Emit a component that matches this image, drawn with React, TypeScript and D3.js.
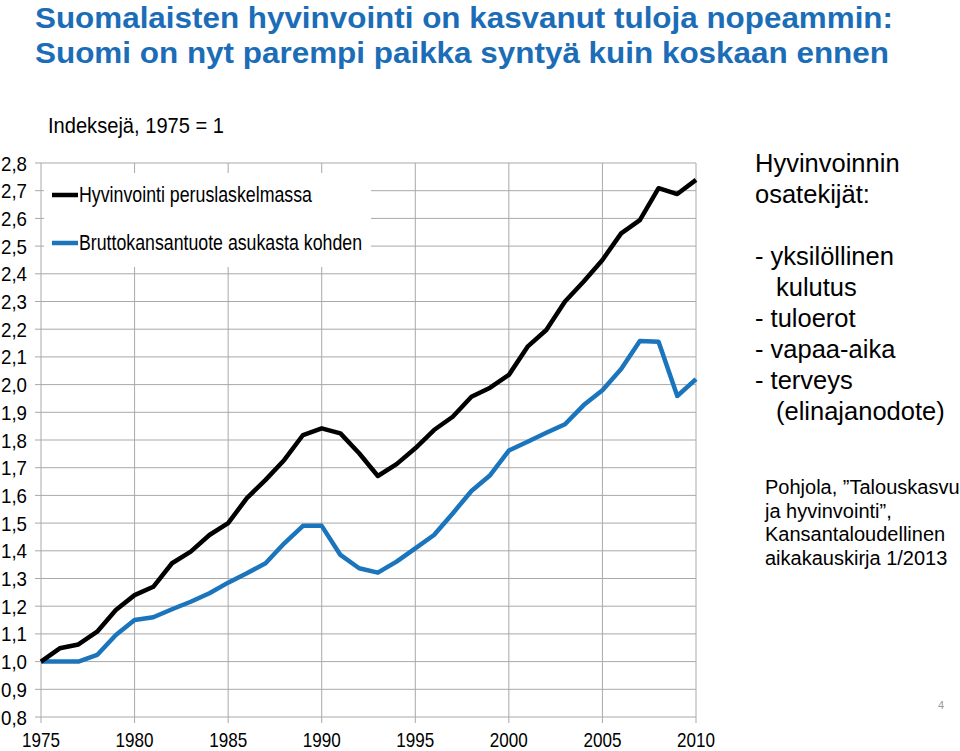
import React from "react";
import * as d3 from "d3";

const years = [1975, 1976, 1977, 1978, 1979, 1980, 1981, 1982, 1983, 1984, 1985, 1986, 1987, 1988, 1989, 1990, 1991, 1992, 1993, 1994, 1995, 1996, 1997, 1998, 1999, 2000, 2001, 2002, 2003, 2004, 2005, 2006, 2007, 2008, 2009, 2010];
const wellbeing = [1.0, 1.048, 1.062, 1.108, 1.186, 1.24, 1.27, 1.355, 1.397, 1.457, 1.5, 1.59, 1.656, 1.728, 1.818, 1.842, 1.824, 1.752, 1.67, 1.713, 1.77, 1.836, 1.884, 1.956, 1.989, 2.035, 2.137, 2.197, 2.3, 2.372, 2.45, 2.546, 2.594, 2.709, 2.688, 2.739];
const gdpPerCapita = [1.0, 1.0, 1.0, 1.024, 1.096, 1.15, 1.16, 1.189, 1.216, 1.247, 1.285, 1.319, 1.355, 1.427, 1.49, 1.49, 1.385, 1.337, 1.321, 1.361, 1.409, 1.457, 1.535, 1.616, 1.673, 1.762, 1.794, 1.826, 1.857, 1.926, 1.98, 2.056, 2.157, 2.155, 1.959, 2.02];
const yTicks = [0.8, 0.9, 1.0, 1.1, 1.2, 1.3, 1.4, 1.5, 1.6, 1.7, 1.8, 1.9, 2.0, 2.1, 2.2, 2.3, 2.4, 2.5, 2.6, 2.7, 2.8];
const xTicks = [1975, 1980, 1985, 1990, 1995, 2000, 2005, 2010];
const seriesNames = ["Hyvinvointi peruslaskelmassa", "Bruttokansantuote asukasta kohden"];
const titleLines = ["Suomalaisten hyvinvointi on kasvanut tuloja nopeammin:", "Suomi on nyt parempi paikka syntyä kuin koskaan ennen"];
const sideLines = [
  { t: "Hyvinvoinnin", indent: false },
  { t: "osatekijät:", indent: false },
  { t: "", indent: false },
  { t: "- yksilöllinen", indent: false },
  { t: "kulutus", indent: true },
  { t: "- tuloerot", indent: false },
  { t: "- vapaa-aika", indent: false },
  { t: "- terveys", indent: false },
  { t: "(elinajanodote)", indent: true },
];
const citation = ["Pohjola, \u201dTalouskasvu", "ja hyvinvointi\u201d,", "Kansantaloudellinen", "aikakauskirja 1/2013"];

const NARROW = "'Liberation Sans Narrow', 'Arial Narrow', 'Liberation Sans', Arial, sans-serif";
const SANS = "'Liberation Sans', Arial, sans-serif";
const BLUE_TITLE = "#1c6db7";
const BLUE_LINE = "#1b75bc";
const GRID = "#a9a9a9";

export default function App() {
  const x = d3.scaleLinear().domain([1975, 2010]).range([41, 696]);
  const y = d3.scaleLinear().domain([0.8, 2.8]).range([717, 163]);
  const line = d3
    .line<number>()
    .x((_, i) => x(years[i]))
    .y((d) => y(d));

  const fmt = (v: number) => v.toFixed(1).replace(".", ",");

  return (
    <svg
      width={960}
      height={751}
      style={{ position: "absolute", left: 0, top: 0, display: "block", background: "#fff" }}
    >
      <rect x={0} y={0} width={960} height={751} fill="#fff" />
      {/* title */}
      {titleLines.map((t, i) => (
        <text
          key={t}
          x={35}
          y={28 + i * 35}
          fill={BLUE_TITLE}
          fontFamily={SANS}
          fontWeight="bold"
          fontSize={30}
          textLength={i === 0 ? 858 : 854}
          lengthAdjust="spacingAndGlyphs"
        >
          {t}
        </text>
      ))}
      <text x={48} y={133} fontFamily={NARROW} fontSize={22} fill="#000" textLength={176} lengthAdjust="spacingAndGlyphs">
        Indeksejä, 1975 = 1
      </text>

      {/* grid */}
      {yTicks.map((v) => (
        <line key={"h" + v} x1={35} x2={696} y1={y(v)} y2={y(v)} stroke={GRID} strokeWidth={1} />
      ))}
      {xTicks.map((v) => (
        <line key={"v" + v} x1={x(v)} x2={x(v)} y1={163} y2={723} stroke={GRID} strokeWidth={1} />
      ))}

      {/* legend box */}
      <rect x={44} y={173} width={327} height={94} fill="#fff" />
      <line x1={52} x2={78} y1={195} y2={195} stroke="#000" strokeWidth={4.5} />
      <line x1={52} x2={78} y1={243} y2={243} stroke={BLUE_LINE} strokeWidth={4.5} />
      <text x={79} y={202} fontFamily={NARROW} fontSize={21.5} fill="#000" textLength={233} lengthAdjust="spacingAndGlyphs">
        {seriesNames[0]}
      </text>
      <text x={79} y={250} fontFamily={NARROW} fontSize={21.5} fill="#000" textLength={283} lengthAdjust="spacingAndGlyphs">
        {seriesNames[1]}
      </text>

      {/* y labels */}
      {yTicks.map((v) => (
        <text
          key={"yl" + v}
          x={27}
          y={y(v) + 7.5}
          textAnchor="end"
          fontFamily={NARROW}
          fontSize={21}
          fill="#000"
          textLength={26}
          lengthAdjust="spacingAndGlyphs"
        >
          {fmt(v)}
        </text>
      ))}
      {/* x labels */}
      {xTicks.map((v) => (
        <text
          key={"xl" + v}
          x={x(v)}
          y={747}
          textAnchor="middle"
          fontFamily={NARROW}
          fontSize={21}
          fill="#000"
          textLength={38}
          lengthAdjust="spacingAndGlyphs"
        >
          {v}
        </text>
      ))}

      {/* series */}
      <path d={line(gdpPerCapita) || ""} fill="none" stroke={BLUE_LINE} strokeWidth={4.5} strokeLinejoin="round" />
      <path d={line(wellbeing) || ""} fill="none" stroke="#000" strokeWidth={4.5} strokeLinejoin="round" />

      {/* side text */}
      {sideLines.map((l, i) =>
        l.t ? (
          <text key={"s" + i} x={l.indent ? 776 : 755} y={172 + i * 31} fontFamily={SANS} fontSize={25.5} fill="#000">
            {l.t}
          </text>
        ) : null
      )}
      {citation.map((t, i) => (
        <text key={"c" + i} x={765} y={494 + i * 23.5} fontFamily={SANS} fontSize={20} fill="#000">
          {t}
        </text>
      ))}
      <text x={941} y={709} textAnchor="middle" fontFamily={SANS} fontSize={11} fill="#999">
        4
      </text>
    </svg>
  );
}
